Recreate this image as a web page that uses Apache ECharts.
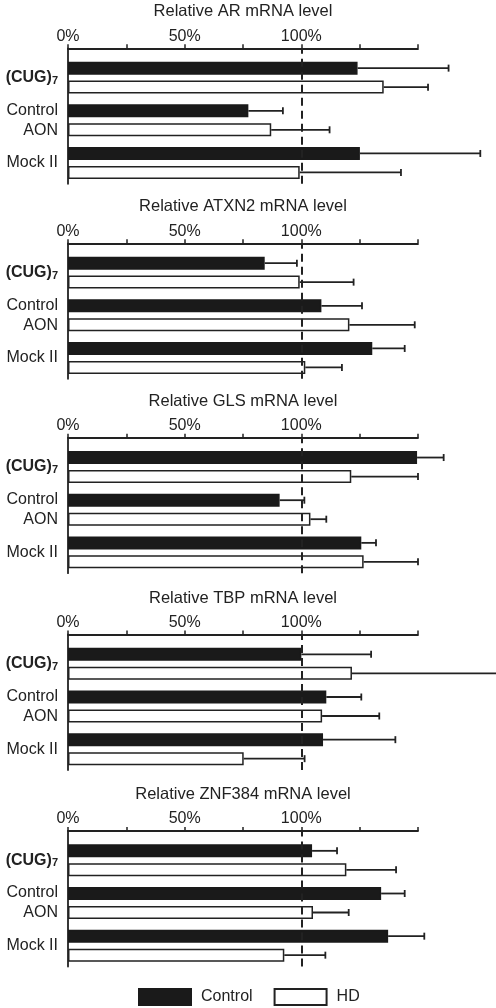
<!DOCTYPE html>
<html>
<head>
<meta charset="utf-8">
<script src="https://cdn.jsdelivr.net/npm/echarts@6/dist/echarts.min.js"></script>
<style>
html,body{margin:0;padding:0;background:#fff;}
#chart{width:496px;height:1008px;}
</style>
</head>
<body>
<div id="chart"></div>
<script>
// ---- data ----
const genes = ['AR', 'ATXN2', 'GLS', 'TBP', 'ZNF384'];
const categories = ['(CUG)7', 'Control\nAON', 'Mock II'];
const seriesNames = ['Control', 'HD'];
const tickValues = [0, 25, 50, 75, 100, 125, 150];
const tickLabels = ['0%', '', '50%', '', '100%', '', ''];
// per gene: [ (CUG)7, Control AON, Mock II ]
const controlMean = [
  [124.1, 77.3, 125.1],
  [84.3, 108.6, 130.4],
  [149.6, 90.7, 125.7],
  [100.0, 110.7, 109.3],
  [104.6, 134.2, 137.2]
];
const controlErr = [
  [39.0, 14.8, 51.6],
  [13.8, 17.4, 13.9],
  [11.4, 10.6, 6.3],
  [29.9, 15.0, 31.0],
  [10.7, 10.1, 15.5]
];
const hdMean = [
  [135.3, 87.1, 99.3],
  [99.3, 120.6, 101.7],
  [121.4, 103.9, 126.7],
  [121.7, 108.9, 75.3],
  [119.3, 105.0, 92.7]
];
const hdErr = [
  [19.0, 25.0, 43.4],
  [23.1, 28.0, 15.7],
  [28.6, 6.8, 23.3],
  [64.0, 24.5, 26.1],
  [21.3, 15.3, 17.6]
];

// ---- layout ----
const FONT = '"Liberation Sans", Arial, Helvetica, sans-serif';
const INK = '#222';
const axisY = [48.3, 243.3, 437.7, 634.5, 831];
const GL = 68, GR = 78;
const BW = 13, BORDER = 1.5, HALF = 9.5;

const grids = [], xAxes = [], yAxes = [], series = [], titles = [];
genes.forEach((g, i) => {
  const ay = axisY[i];
  grids.push({left: GL, right: GR, top: ay, height: 135.5});
  grids.push({left: GL, right: GR, top: ay + 8, height: 128});
  const gA = 2 * i, gB = 2 * i + 1;
  xAxes.push({
    gridIndex: gA, type: 'value', position: 'top', min: 0, max: 150, interval: 25,
    axisLine: {show: true, onZero: false, lineStyle: {color: INK, width: 1.8}},
    axisTick: {show: true, length: 4, lineStyle: {color: INK, width: 1.5}},
    splitLine: {show: false},
    axisLabel: {
      show: true, margin: 4, color: INK, fontSize: 16, fontFamily: FONT,
      formatter: v => { const k = tickValues.indexOf(v); return k >= 0 ? tickLabels[k] : ''; }
    }
  });
  xAxes.push({
    gridIndex: gB, type: 'value', min: 0, max: 150, show: false
  });
  yAxes.push({
    gridIndex: gA, type: 'value', min: 0, max: 1,
    axisLine: {show: true, onZero: false, lineStyle: {color: INK, width: 1.8}},
    axisTick: {show: false}, axisLabel: {show: false}, splitLine: {show: false}
  });
  yAxes.push({
    gridIndex: gB, type: 'category', data: categories, inverse: true,
    axisLine: {show: false}, axisTick: {show: false}, splitLine: {show: false},
    axisLabel: {
      show: true, margin: 10, color: INK, fontSize: 16, fontFamily: FONT, lineHeight: 20,
      align: 'right',
      formatter: v => v === '(CUG)7' ? '{b|(CUG)}{s|7}' : v,
      rich: {
        b: {fontSize: 16, fontWeight: 'bold', fontFamily: FONT, color: INK},
        s: {fontSize: 11, fontWeight: 'bold', fontFamily: FONT, color: INK, padding: [6, 0, 0, 0]}
      }
    }
  });
  titles.push({
    text: 'Relative ' + g + ' mRNA level',
    left: 243, top: ay - 45, textAlign: 'center', padding: 0,
    textStyle: {fontSize: 16.5, fontWeight: 'normal', color: INK, fontFamily: FONT}
  });
  series.push({
    type: 'line', name: 'ref' + i, xAxisIndex: gA, yAxisIndex: gA, data: [],
    silent: true, z: 5,
    markLine: {
      silent: true, symbol: 'none', label: {show: false}, z: 5,
      lineStyle: {color: INK, width: 2, type: [8, 5]},
      emphasis: {disabled: true},
      data: [{xAxis: 100}]
    }
  });
  const means = [controlMean[i], hdMean[i]];
  const errs = [controlErr[i], hdErr[i]];
  seriesNames.forEach((name, s) => {
    series.push({
      type: 'bar', name: name, xAxisIndex: gB, yAxisIndex: gB,
      data: means[s], barWidth: BW, barGap: '46%', z: 2,
      itemStyle: s === 0 ? {color: '#1a1a1a', borderColor: '#1a1a1a', borderWidth: BORDER}
                         : {color: '#ffffff', borderColor: INK, borderWidth: BORDER},
      emphasis: {disabled: true}, silent: true
    });
    const off = s === 0 ? -HALF : HALF;
    series.push({
      type: 'custom', name: 'err' + name + i, xAxisIndex: gB, yAxisIndex: gB, z: 6,
      silent: true, clip: false,
      data: means[s].map((m, c) => [c, m, errs[s][c]]),
      encode: {x: 1, y: 0},
      renderItem: (params, api) => {
        const c = api.value(0), m = api.value(1), e = api.value(2);
        const p0 = api.coord([m, c]);
        const p1 = api.coord([m + e, c]);
        const y = p0[1] + off;
        const st = {stroke: INK, lineWidth: 1.8};
        return {type: 'group', children: [
          {type: 'line', shape: {x1: p0[0], y1: y, x2: p1[0], y2: y}, style: st},
          {type: 'line', shape: {x1: p1[0], y1: y - 3.5, x2: p1[0], y2: y + 3.5}, style: st}
        ]};
      }
    });
  });
});

const chart = echarts.init(document.getElementById('chart'), null, {renderer: 'canvas'});
chart.setOption({
  animation: false,
  backgroundColor: '#fff',
  title: titles,
  grid: grids,
  xAxis: xAxes,
  yAxis: yAxes,
  legend: {
    data: seriesNames, left: 138, top: 988, padding: 0, itemWidth: 52, itemHeight: 16, itemGap: 21,
    icon: 'rect', selectedMode: false,
    textStyle: {fontSize: 16, color: INK, fontFamily: FONT, padding: [0, 0, 0, 5]}
  },
  series: series
});
</script>
</body>
</html>
